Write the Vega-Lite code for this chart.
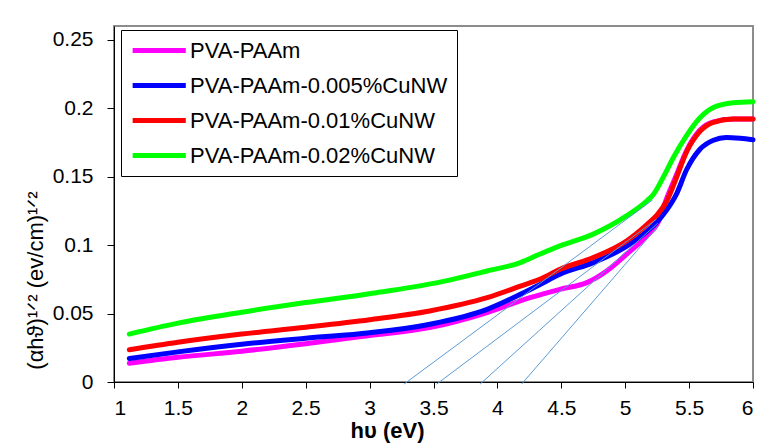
{
  "$schema": "https://vega.github.io/schema/vega-lite/v6.json",
  "width": 639,
  "height": 356,
  "autosize": {"type": "none"},
  "padding": {"left": 114, "top": 26, "right": 16, "bottom": 66},
  "background": "white",
  "config": {
    "font": "Liberation Sans",
    "view": {"stroke": "#8c8c8c", "strokeWidth": 2},
    "axis": {
      "grid": false,
      "domainColor": "black",
      "tickColor": "black",
      "labelColor": "black",
      "titleColor": "black",
      "labelFont": "Liberation Sans",
      "titleFont": "Liberation Sans",
      "labelFontSize": 21,
      "labelFontWeight": "normal"
    }
  },
  "datasets": {
    "curves": [
      {"s": "PVA-PAAm", "x": 1.12, "y": 0.0137},
      {"s": "PVA-PAAm", "x": 1.5, "y": 0.018},
      {"s": "PVA-PAAm", "x": 2.0, "y": 0.0225},
      {"s": "PVA-PAAm", "x": 2.5, "y": 0.028},
      {"s": "PVA-PAAm", "x": 3.0, "y": 0.034},
      {"s": "PVA-PAAm", "x": 3.47, "y": 0.0397},
      {"s": "PVA-PAAm", "x": 3.92, "y": 0.0507},
      {"s": "PVA-PAAm", "x": 4.255, "y": 0.0616},
      {"s": "PVA-PAAm", "x": 4.49, "y": 0.0677},
      {"s": "PVA-PAAm", "x": 4.7, "y": 0.0726},
      {"s": "PVA-PAAm", "x": 4.855, "y": 0.0811},
      {"s": "PVA-PAAm", "x": 5.01, "y": 0.0933},
      {"s": "PVA-PAAm", "x": 5.17, "y": 0.1067},
      {"s": "PVA-PAAm", "x": 5.26, "y": 0.117},
      {"s": "PVA-PAAm", "x": 5.32, "y": 0.133},
      {"s": "PVA-PAAm", "x": 5.4, "y": 0.151},
      {"s": "PVA-PAAm", "x": 5.48, "y": 0.169},
      {"s": "PVA-PAAm", "x": 5.585, "y": 0.184},
      {"s": "PVA-PAAm", "x": 5.69, "y": 0.19},
      {"s": "PVA-PAAm", "x": 5.85, "y": 0.192},
      {"s": "PVA-PAAm", "x": 6.0, "y": 0.192},

      {"s": "PVA-PAAm-0.005%CuNW", "x": 1.12, "y": 0.0172},
      {"s": "PVA-PAAm-0.005%CuNW", "x": 1.5, "y": 0.022},
      {"s": "PVA-PAAm-0.005%CuNW", "x": 2.0, "y": 0.0276},
      {"s": "PVA-PAAm-0.005%CuNW", "x": 2.5, "y": 0.032},
      {"s": "PVA-PAAm-0.005%CuNW", "x": 3.0, "y": 0.036},
      {"s": "PVA-PAAm-0.005%CuNW", "x": 3.47, "y": 0.0422},
      {"s": "PVA-PAAm-0.005%CuNW", "x": 3.92, "y": 0.0531},
      {"s": "PVA-PAAm-0.005%CuNW", "x": 4.18, "y": 0.064},
      {"s": "PVA-PAAm-0.005%CuNW", "x": 4.33, "y": 0.071},
      {"s": "PVA-PAAm-0.005%CuNW", "x": 4.49, "y": 0.0787},
      {"s": "PVA-PAAm-0.005%CuNW", "x": 4.75, "y": 0.0872},
      {"s": "PVA-PAAm-0.005%CuNW", "x": 5.01, "y": 0.099},
      {"s": "PVA-PAAm-0.005%CuNW", "x": 5.17, "y": 0.11},
      {"s": "PVA-PAAm-0.005%CuNW", "x": 5.25, "y": 0.117},
      {"s": "PVA-PAAm-0.005%CuNW", "x": 5.32, "y": 0.125},
      {"s": "PVA-PAAm-0.005%CuNW", "x": 5.4, "y": 0.137},
      {"s": "PVA-PAAm-0.005%CuNW", "x": 5.48, "y": 0.155},
      {"s": "PVA-PAAm-0.005%CuNW", "x": 5.585, "y": 0.17},
      {"s": "PVA-PAAm-0.005%CuNW", "x": 5.69, "y": 0.1766},
      {"s": "PVA-PAAm-0.005%CuNW", "x": 5.79, "y": 0.1786},
      {"s": "PVA-PAAm-0.005%CuNW", "x": 5.9, "y": 0.178},
      {"s": "PVA-PAAm-0.005%CuNW", "x": 6.0, "y": 0.1769},

      {"s": "PVA-PAAm-0.01%CuNW", "x": 1.12, "y": 0.0235},
      {"s": "PVA-PAAm-0.01%CuNW", "x": 1.5, "y": 0.029},
      {"s": "PVA-PAAm-0.01%CuNW", "x": 2.0, "y": 0.035},
      {"s": "PVA-PAAm-0.01%CuNW", "x": 2.5, "y": 0.04},
      {"s": "PVA-PAAm-0.01%CuNW", "x": 3.0, "y": 0.0455},
      {"s": "PVA-PAAm-0.01%CuNW", "x": 3.47, "y": 0.0519},
      {"s": "PVA-PAAm-0.01%CuNW", "x": 3.92, "y": 0.0616},
      {"s": "PVA-PAAm-0.01%CuNW", "x": 4.18, "y": 0.07},
      {"s": "PVA-PAAm-0.01%CuNW", "x": 4.33, "y": 0.075},
      {"s": "PVA-PAAm-0.01%CuNW", "x": 4.49, "y": 0.0823},
      {"s": "PVA-PAAm-0.01%CuNW", "x": 4.75, "y": 0.0909},
      {"s": "PVA-PAAm-0.01%CuNW", "x": 5.01, "y": 0.103},
      {"s": "PVA-PAAm-0.01%CuNW", "x": 5.17, "y": 0.115},
      {"s": "PVA-PAAm-0.01%CuNW", "x": 5.25, "y": 0.122},
      {"s": "PVA-PAAm-0.01%CuNW", "x": 5.324, "y": 0.132},
      {"s": "PVA-PAAm-0.01%CuNW", "x": 5.4, "y": 0.149},
      {"s": "PVA-PAAm-0.01%CuNW", "x": 5.48, "y": 0.168},
      {"s": "PVA-PAAm-0.01%CuNW", "x": 5.585, "y": 0.183},
      {"s": "PVA-PAAm-0.01%CuNW", "x": 5.69, "y": 0.1896},
      {"s": "PVA-PAAm-0.01%CuNW", "x": 5.846, "y": 0.192},
      {"s": "PVA-PAAm-0.01%CuNW", "x": 6.0, "y": 0.192},

      {"s": "PVA-PAAm-0.02%CuNW", "x": 1.12, "y": 0.035},
      {"s": "PVA-PAAm-0.02%CuNW", "x": 1.5, "y": 0.043},
      {"s": "PVA-PAAm-0.02%CuNW", "x": 2.0, "y": 0.051},
      {"s": "PVA-PAAm-0.02%CuNW", "x": 2.5, "y": 0.058},
      {"s": "PVA-PAAm-0.02%CuNW", "x": 3.0, "y": 0.0645},
      {"s": "PVA-PAAm-0.02%CuNW", "x": 3.5, "y": 0.072},
      {"s": "PVA-PAAm-0.02%CuNW", "x": 3.92, "y": 0.0811},
      {"s": "PVA-PAAm-0.02%CuNW", "x": 4.18, "y": 0.0872},
      {"s": "PVA-PAAm-0.02%CuNW", "x": 4.33, "y": 0.0933},
      {"s": "PVA-PAAm-0.02%CuNW", "x": 4.49, "y": 0.0994},
      {"s": "PVA-PAAm-0.02%CuNW", "x": 4.75, "y": 0.108},
      {"s": "PVA-PAAm-0.02%CuNW", "x": 5.01, "y": 0.1213},
      {"s": "PVA-PAAm-0.02%CuNW", "x": 5.17, "y": 0.1323},
      {"s": "PVA-PAAm-0.02%CuNW", "x": 5.22, "y": 0.137},
      {"s": "PVA-PAAm-0.02%CuNW", "x": 5.3, "y": 0.15},
      {"s": "PVA-PAAm-0.02%CuNW", "x": 5.377, "y": 0.164},
      {"s": "PVA-PAAm-0.02%CuNW", "x": 5.48, "y": 0.18},
      {"s": "PVA-PAAm-0.02%CuNW", "x": 5.585, "y": 0.193},
      {"s": "PVA-PAAm-0.02%CuNW", "x": 5.69, "y": 0.2005},
      {"s": "PVA-PAAm-0.02%CuNW", "x": 5.846, "y": 0.204},
      {"s": "PVA-PAAm-0.02%CuNW", "x": 6.0, "y": 0.2047}
    ],
    "tangents": [
      {"t": "L1", "x": 3.27, "y": -0.0015},
      {"t": "L1", "x": 5.215, "y": 0.133},
      {"t": "L2", "x": 3.525, "y": -0.0015},
      {"t": "L2", "x": 5.245, "y": 0.119},
      {"t": "L3", "x": 3.865, "y": -0.0015},
      {"t": "L3", "x": 5.255, "y": 0.116},
      {"t": "L4", "x": 4.19, "y": -0.0015},
      {"t": "L4", "x": 5.26, "y": 0.114}
    ]
  },
  "layer": [
    {
      "data": {"name": "curves"},
      "mark": {"type": "line", "strokeWidth": 5, "interpolate": "monotone", "strokeCap": "round", "strokeJoin": "round"},
      "encoding": {
        "x": {
          "field": "x", "type": "quantitative",
          "scale": {"domain": [1, 6], "nice": false, "zero": false},
          "axis": {
            "values": [1, 1.5, 2, 2.5, 3, 3.5, 4, 4.5, 5, 5.5, 6],
            "format": "~g",
            "tickSize": 6,
            "labelPadding": 9,
            "title": "hυ (eV)",
            "titleFontSize": 22,
            "titleFontWeight": "bold",
            "titleX": 273,
            "titleY": 38,
            "titleAlign": "center",
            "titleBaseline": "top"
          }
        },
        "y": {
          "field": "y", "type": "quantitative",
          "scale": {"domain": [0, 0.26], "nice": false, "zero": false},
          "axis": {
            "values": [0, 0.05, 0.1, 0.15, 0.2, 0.25],
            "format": "~g",
            "tickSize": 7,
            "labelPadding": 14,
            "title": "(αhϑ)¹ᐟ²  (ev/cm)¹ᐟ²",
            "titleFontSize": 22,
            "titleFontWeight": "normal",
            "titleAngle": -90,
            "titleX": -79,
            "titleY": 254,
            "titleAlign": "center",
            "titleBaseline": "middle"
          }
        },
        "color": {
          "field": "s", "type": "nominal",
          "scale": {
            "domain": ["PVA-PAAm", "PVA-PAAm-0.005%CuNW", "PVA-PAAm-0.01%CuNW", "PVA-PAAm-0.02%CuNW"],
            "range": ["#ff00ff", "#0000ff", "#ff0000", "#00ff00"]
          },
          "legend": {
            "title": null,
            "orient": "none",
            "legendX": 7,
            "legendY": 4,
            "strokeColor": "black",
            "fillColor": "white",
            "padding": 9,
            "symbolType": "M-1,0H5",
            "symbolSize": 314,
            "symbolStrokeWidth": 5,
            "symbolStrokeCap": "round",
            "labelFontSize": 22,
            "labelFont": "Liberation Sans",
            "labelColor": "black",
            "labelOffset": 37,
            "labelLimit": 400,
            "rowPadding": 12
          }
        }
      }
    },
    {
      "data": {"name": "tangents"},
      "mark": {"type": "line", "strokeWidth": 1, "color": "#5b9bd5"},
      "encoding": {
        "x": {"field": "x", "type": "quantitative"},
        "y": {"field": "y", "type": "quantitative"},
        "detail": {"field": "t", "type": "nominal"}
      }
    }
  ]
}
